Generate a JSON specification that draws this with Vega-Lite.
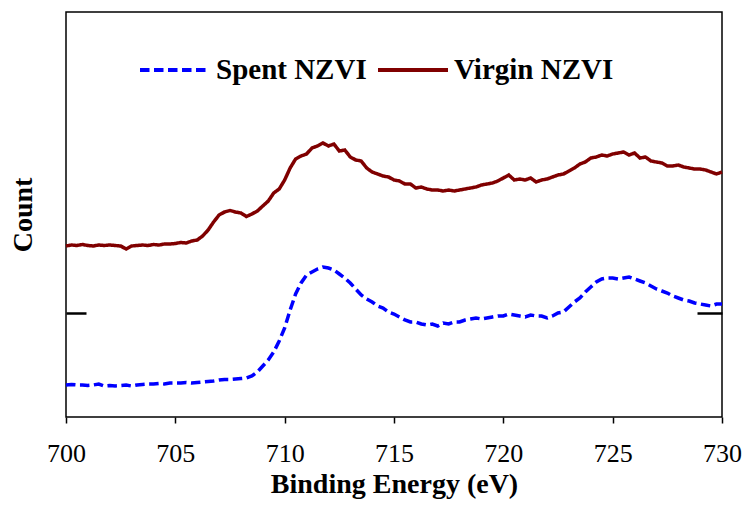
{
  "$schema": "https://vega.github.io/schema/vega-lite/v6.json",
  "width": 656,
  "height": 405,
  "autosize": "none",
  "padding": {"left": 66, "top": 12, "right": 20, "bottom": 88},
  "background": "white",
  "config": {
    "view": {"stroke": "black", "strokeWidth": 1.5},
    "font": "'Liberation Serif', 'Times New Roman', Times, serif"
  },
  "data": {"values": [
    {"x":700.00,"Spent NZVI":32,"Virgin NZVI":171},
    {"x":700.25,"Spent NZVI":32.5,"Virgin NZVI":172},
    {"x":700.50,"Spent NZVI":32,"Virgin NZVI":171.5},
    {"x":700.75,"Spent NZVI":32,"Virgin NZVI":172.5},
    {"x":701.00,"Spent NZVI":31.5,"Virgin NZVI":171.5},
    {"x":701.25,"Spent NZVI":32,"Virgin NZVI":171},
    {"x":701.50,"Spent NZVI":33,"Virgin NZVI":172},
    {"x":701.75,"Spent NZVI":31,"Virgin NZVI":171.5},
    {"x":702.00,"Spent NZVI":31.5,"Virgin NZVI":172},
    {"x":702.25,"Spent NZVI":31,"Virgin NZVI":171.5},
    {"x":702.50,"Spent NZVI":31.5,"Virgin NZVI":171},
    {"x":702.75,"Spent NZVI":32,"Virgin NZVI":168},
    {"x":703.00,"Spent NZVI":31,"Virgin NZVI":171},
    {"x":703.25,"Spent NZVI":32,"Virgin NZVI":171.5},
    {"x":703.50,"Spent NZVI":32.5,"Virgin NZVI":172},
    {"x":703.75,"Spent NZVI":33,"Virgin NZVI":171.5},
    {"x":704.00,"Spent NZVI":33,"Virgin NZVI":172.5},
    {"x":704.25,"Spent NZVI":33.5,"Virgin NZVI":172},
    {"x":704.50,"Spent NZVI":33,"Virgin NZVI":173},
    {"x":704.75,"Spent NZVI":34,"Virgin NZVI":173},
    {"x":705.00,"Spent NZVI":34,"Virgin NZVI":173.5},
    {"x":705.25,"Spent NZVI":34,"Virgin NZVI":174.5},
    {"x":705.50,"Spent NZVI":34.5,"Virgin NZVI":174},
    {"x":705.75,"Spent NZVI":34,"Virgin NZVI":176},
    {"x":706.00,"Spent NZVI":34.5,"Virgin NZVI":177},
    {"x":706.25,"Spent NZVI":35,"Virgin NZVI":181},
    {"x":706.50,"Spent NZVI":35.5,"Virgin NZVI":187},
    {"x":706.75,"Spent NZVI":36,"Virgin NZVI":195},
    {"x":707.00,"Spent NZVI":37,"Virgin NZVI":202},
    {"x":707.25,"Spent NZVI":37.5,"Virgin NZVI":205},
    {"x":707.50,"Spent NZVI":37.5,"Virgin NZVI":206.5},
    {"x":707.75,"Spent NZVI":38,"Virgin NZVI":205},
    {"x":708.00,"Spent NZVI":38.5,"Virgin NZVI":204},
    {"x":708.25,"Spent NZVI":39,"Virgin NZVI":200.5},
    {"x":708.50,"Spent NZVI":41,"Virgin NZVI":203},
    {"x":708.75,"Spent NZVI":45,"Virgin NZVI":206},
    {"x":709.00,"Spent NZVI":51,"Virgin NZVI":211},
    {"x":709.25,"Spent NZVI":57,"Virgin NZVI":216},
    {"x":709.50,"Spent NZVI":65,"Virgin NZVI":224},
    {"x":709.75,"Spent NZVI":76,"Virgin NZVI":228},
    {"x":710.00,"Spent NZVI":89,"Virgin NZVI":237},
    {"x":710.25,"Spent NZVI":107,"Virgin NZVI":249},
    {"x":710.50,"Spent NZVI":123,"Virgin NZVI":258},
    {"x":710.75,"Spent NZVI":134,"Virgin NZVI":261},
    {"x":711.00,"Spent NZVI":142,"Virgin NZVI":263},
    {"x":711.25,"Spent NZVI":145,"Virgin NZVI":269},
    {"x":711.50,"Spent NZVI":148,"Virgin NZVI":271},
    {"x":711.75,"Spent NZVI":150,"Virgin NZVI":274},
    {"x":712.00,"Spent NZVI":149,"Virgin NZVI":271},
    {"x":712.25,"Spent NZVI":147,"Virgin NZVI":273},
    {"x":712.50,"Spent NZVI":143,"Virgin NZVI":266},
    {"x":712.75,"Spent NZVI":139,"Virgin NZVI":267},
    {"x":713.00,"Spent NZVI":134,"Virgin NZVI":260},
    {"x":713.25,"Spent NZVI":128,"Virgin NZVI":257},
    {"x":713.50,"Spent NZVI":122,"Virgin NZVI":256},
    {"x":713.75,"Spent NZVI":118,"Virgin NZVI":249},
    {"x":714.00,"Spent NZVI":115,"Virgin NZVI":245},
    {"x":714.25,"Spent NZVI":111,"Virgin NZVI":243},
    {"x":714.50,"Spent NZVI":109,"Virgin NZVI":241},
    {"x":714.75,"Spent NZVI":105,"Virgin NZVI":240},
    {"x":715.00,"Spent NZVI":103,"Virgin NZVI":237},
    {"x":715.25,"Spent NZVI":100,"Virgin NZVI":236},
    {"x":715.50,"Spent NZVI":97,"Virgin NZVI":233},
    {"x":715.75,"Spent NZVI":95,"Virgin NZVI":233},
    {"x":716.00,"Spent NZVI":95,"Virgin NZVI":229},
    {"x":716.25,"Spent NZVI":93,"Virgin NZVI":230},
    {"x":716.50,"Spent NZVI":92,"Virgin NZVI":228},
    {"x":716.75,"Spent NZVI":93,"Virgin NZVI":227},
    {"x":717.00,"Spent NZVI":91,"Virgin NZVI":227},
    {"x":717.25,"Spent NZVI":94,"Virgin NZVI":226},
    {"x":717.50,"Spent NZVI":93,"Virgin NZVI":227},
    {"x":717.75,"Spent NZVI":95,"Virgin NZVI":226},
    {"x":718.00,"Spent NZVI":95,"Virgin NZVI":227},
    {"x":718.25,"Spent NZVI":97,"Virgin NZVI":228},
    {"x":718.50,"Spent NZVI":98,"Virgin NZVI":229},
    {"x":718.75,"Spent NZVI":99,"Virgin NZVI":230},
    {"x":719.00,"Spent NZVI":98,"Virgin NZVI":232},
    {"x":719.25,"Spent NZVI":99,"Virgin NZVI":233},
    {"x":719.50,"Spent NZVI":100,"Virgin NZVI":234},
    {"x":719.75,"Spent NZVI":101,"Virgin NZVI":236},
    {"x":720.00,"Spent NZVI":101,"Virgin NZVI":239},
    {"x":720.25,"Spent NZVI":103,"Virgin NZVI":242},
    {"x":720.50,"Spent NZVI":102,"Virgin NZVI":237},
    {"x":720.75,"Spent NZVI":101,"Virgin NZVI":238},
    {"x":721.00,"Spent NZVI":100,"Virgin NZVI":237},
    {"x":721.25,"Spent NZVI":102,"Virgin NZVI":239},
    {"x":721.50,"Spent NZVI":101,"Virgin NZVI":235},
    {"x":721.75,"Spent NZVI":101,"Virgin NZVI":237},
    {"x":722.00,"Spent NZVI":99,"Virgin NZVI":238},
    {"x":722.25,"Spent NZVI":101,"Virgin NZVI":240},
    {"x":722.50,"Spent NZVI":104,"Virgin NZVI":242},
    {"x":722.75,"Spent NZVI":105,"Virgin NZVI":243},
    {"x":723.00,"Spent NZVI":110,"Virgin NZVI":246},
    {"x":723.25,"Spent NZVI":115,"Virgin NZVI":249},
    {"x":723.50,"Spent NZVI":119,"Virgin NZVI":253},
    {"x":723.75,"Spent NZVI":125,"Virgin NZVI":255},
    {"x":724.00,"Spent NZVI":130,"Virgin NZVI":259},
    {"x":724.25,"Spent NZVI":135,"Virgin NZVI":260},
    {"x":724.50,"Spent NZVI":138,"Virgin NZVI":262},
    {"x":724.75,"Spent NZVI":139,"Virgin NZVI":261},
    {"x":725.00,"Spent NZVI":139,"Virgin NZVI":263},
    {"x":725.25,"Spent NZVI":138,"Virgin NZVI":264},
    {"x":725.50,"Spent NZVI":139,"Virgin NZVI":265},
    {"x":725.75,"Spent NZVI":140,"Virgin NZVI":262},
    {"x":726.00,"Spent NZVI":138,"Virgin NZVI":264},
    {"x":726.25,"Spent NZVI":136,"Virgin NZVI":259},
    {"x":726.50,"Spent NZVI":134,"Virgin NZVI":260},
    {"x":726.75,"Spent NZVI":131,"Virgin NZVI":256},
    {"x":727.00,"Spent NZVI":128,"Virgin NZVI":255},
    {"x":727.25,"Spent NZVI":126,"Virgin NZVI":254},
    {"x":727.50,"Spent NZVI":124,"Virgin NZVI":251},
    {"x":727.75,"Spent NZVI":121,"Virgin NZVI":251},
    {"x":728.00,"Spent NZVI":119,"Virgin NZVI":252},
    {"x":728.25,"Spent NZVI":117,"Virgin NZVI":250},
    {"x":728.50,"Spent NZVI":116,"Virgin NZVI":249},
    {"x":728.75,"Spent NZVI":114,"Virgin NZVI":248},
    {"x":729.00,"Spent NZVI":113,"Virgin NZVI":248},
    {"x":729.25,"Spent NZVI":112,"Virgin NZVI":247},
    {"x":729.50,"Spent NZVI":111,"Virgin NZVI":245},
    {"x":729.75,"Spent NZVI":113,"Virgin NZVI":243},
    {"x":730.00,"Spent NZVI":113,"Virgin NZVI":245}
  ]},
  "transform": [{"fold": ["Spent NZVI", "Virgin NZVI"], "as": ["s", "y"]}],
  "layer": [
    {
      "mark": {"type": "line", "strokeWidth": 3.5, "strokeCap": "butt"},
      "encoding": {
        "x": {
          "field": "x", "type": "quantitative",
          "scale": {"domain": [700, 730], "nice": false, "zero": false},
          "axis": {
            "values": [700, 705, 710, 715, 720, 725, 730],
            "title": "Binding Energy (eV)",
            "grid": false, "domain": false,
            "tickSize": 6, "tickWidth": 1.5, "tickColor": "black",
            "labelFont": "'Liberation Serif', 'Times New Roman', Times, serif", "labelFontSize": 26, "labelColor": "black",
            "labelPadding": 17, "labelOverlap": false, "labelFlush": false,
            "titleFont": "'Liberation Serif', 'Times New Roman', Times, serif", "titleFontSize": 28, "titleFontWeight": "bold",
            "titleColor": "black", "titlePadding": 4
          }
        },
        "y": {
          "field": "y", "type": "quantitative",
          "scale": {"domain": [0, 405], "nice": false},
          "axis": {
            "orient": "left",
            "values": [104],
            "labels": false, "grid": false, "domain": false,
            "tickSize": -20, "tickWidth": 2.5, "tickColor": "black",
            "title": "Count",
            "titleFont": "'Liberation Serif', 'Times New Roman', Times, serif", "titleFontSize": 28, "titleFontWeight": "bold",
            "titleColor": "black", "titlePadding": 27
          }
        },
        "color": {
          "field": "s", "type": "nominal",
          "scale": {"domain": ["Spent NZVI", "Virgin NZVI"], "range": ["#0000FF", "#800000"]},
          "legend": {
            "title": null,
            "orient": "none",
            "direction": "horizontal",
            "legendX": 72,
            "legendY": 21,
            "padding": 0,
            "symbolType": "stroke",
            "symbolSize": 4900,
            "symbolStrokeWidth": 4,
            "labelFont": "'Liberation Serif', 'Times New Roman', Times, serif",
            "labelFontSize": 29,
            "labelFontWeight": "bold",
            "labelColor": "black",
            "labelOffset": 4,
            "labelLimit": 400,
            "columnPadding": 3
          }
        },
        "strokeDash": {
          "field": "s", "type": "nominal",
          "scale": {"domain": ["Spent NZVI", "Virgin NZVI"], "range": [[9.5, 4.5], [1, 0]]},
          "legend": null
        }
      }
    },
    {
      "mark": {"type": "line", "opacity": 0},
      "encoding": {
        "x": {"field": "x", "type": "quantitative"},
        "y": {
          "field": "y", "type": "quantitative",
          "axis": {
            "orient": "right",
            "values": [104],
            "labels": false, "grid": false, "domain": false,
            "tickSize": -25, "tickWidth": 2.5, "tickColor": "black",
            "title": null
          }
        },
        "detail": {"field": "s"}
      }
    }
  ],
  "resolve": {"axis": {"y": "independent"}}
}
